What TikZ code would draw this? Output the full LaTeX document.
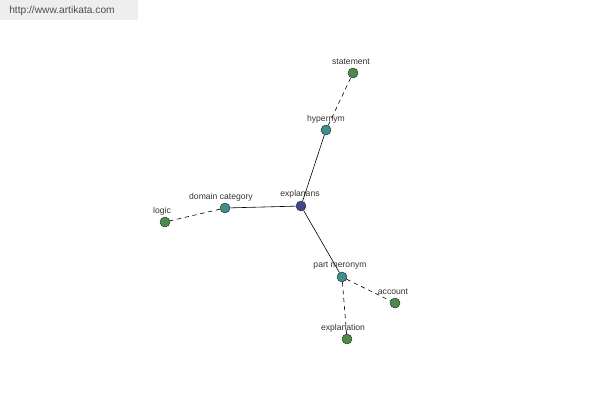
\documentclass[tikz,border=0pt]{standalone}
\usepackage{fontspec}
\setmainfont{Liberation Sans}
\definecolor{leafgreen}{HTML}{4E8A4A}
\definecolor{midteal}{HTML}{3E8E8E}
\definecolor{rootblue}{HTML}{44448E}
\definecolor{bannergray}{HTML}{EEEEEE}
\begin{document}
\begin{tikzpicture}[x=1pt,y=-1pt,line join=round,line cap=round]
		\tikzset{word/.style={circle,draw=black!80,line width=.5pt,inner sep=0pt,minimum size=10pt},
			leaf/.style={word,fill=leafgreen},
			mid/.style={word,fill=midteal},
			root/.style={word,fill=rootblue},
			lbl/.style={font=\fontsize{8.6}{9}\selectfont,text=black!80},
			link/.style={line width=.6pt},
			farlink/.style={link,dashed,dash pattern=on 4pt off 4pt}}
		\useasboundingbox (0,0) rectangle (600,400);
		\fill[bannergray] (0,0) rectangle (138,20);
		\node[font=\fontsize{10.2}{11}\selectfont,text=black!70] (site) at (62,11) {http://www.artikata.com};
		% words
		\node[root] (explanans) at (301,206) {};
		\node[mid] (hypernym) at (326,130) {};
		\node[leaf] (statement) at (353,73) {};
		\node[mid] (domain) at (225,208) {};
		\node[leaf] (logic) at (165,222) {};
		\node[mid] (part) at (342,277) {};
		\node[leaf] (account) at (395,303) {};
		\node[leaf] (explanation) at (347,339) {};
		% labels
		\node[lbl] at (300,194) {explanans};
		\node[lbl] at (326,119) {hypernym};
		\node[lbl] at (351,62) {statement};
		\node[lbl] at (221,197) {domain category};
		\node[lbl] at (162,211) {logic};
		\node[lbl] at (340,266) {part meronym};
		\node[lbl] at (393,292) {account};
		\node[lbl] at (343,328) {explanation};
		% links
		\draw[link] (explanans) -- (hypernym);
		\draw[link] (explanans) -- (domain);
		\draw[link] (explanans) -- (part);
		\draw[farlink] (hypernym) -- (statement);
		\draw[farlink] (domain) -- (logic);
		\draw[farlink] (part) -- (account);
		\draw[farlink] (part) -- (explanation);
		\end{tikzpicture}
\end{document}
